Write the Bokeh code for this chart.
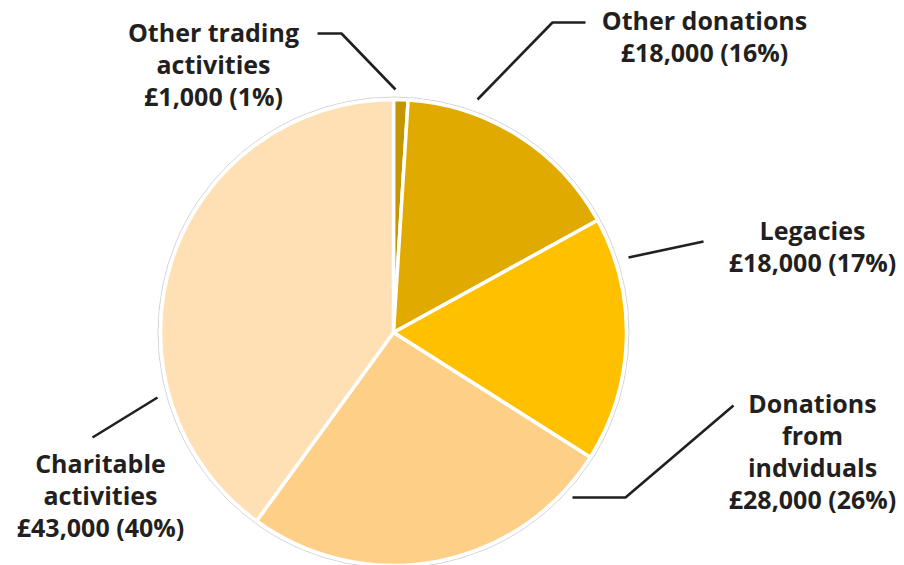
import math
from bokeh.plotting import figure
from bokeh.models import Range1d, ColumnDataSource
from bokeh.core.properties import value
from bokeh.embed import file_html
from bokeh.resources import INLINE

# ---- data ----
categories = ["Other trading activities", "Other donations", "Legacies",
              "Donations from indviduals", "Charitable activities"]
label_lines = [["Other trading", "activities"], ["Other donations"], ["Legacies"],
               ["Donations", "from", "indviduals"], ["Charitable", "activities"]]
amounts = [1000, 18000, 18000, 28000, 43000]
percents = [1, 16, 17, 26, 40]
colors = ["#C49600", "#E1AA00", "#FFC000", "#FED087", "#FFE0B4"]

W, H = 904, 565
TEXT = "#231F20"

def py(yy):  # picture y -> data y
    return H - yy

def px(xx):
    return xx

p = figure(width=W, height=H, output_backend="svg", toolbar_location=None,
           x_range=Range1d(0, W), y_range=Range1d(0, H), min_border=0)
p.axis.visible = False
p.grid.visible = False
p.outline_line_color = None
p.background_fill_color = "white"

cx, cy, R = px(393), py(332), 233

total = sum(percents)
starts, ends = [], []
acc = 0.0
for v in percents:
    starts.append(math.pi / 2 - 2 * math.pi * acc / total)
    acc += v
    ends.append(math.pi / 2 - 2 * math.pi * acc / total)

# faint outer outline
p.circle(x=[cx], y=[cy], radius=R + 2.5, fill_color=None, line_color="#D4D4D4", line_width=1)

src = ColumnDataSource(dict(start=starts, end=ends, color=colors, cat=categories))
p.wedge(x=cx, y=cy, radius=R, start_angle="start", end_angle="end", direction="clock",
        fill_color="color", line_color="white", line_width=3.5, source=src)

# ---- label layout (picture coords: center x, first-line y) ----
label_pos = [(213, 31), (704, 19), (812, 229), (812, 402), (100, 462)]
line_step = 32
leaders = [
    [(317, 33), (341, 33), (395, 89)],
    [(477, 99), (552, 22), (585, 22)],
    [(628, 257), (703, 241)],
    [(572, 497), (625, 497), (733, 405)],
    [(157, 397), (92, 437)],
]

for pts in leaders:
    p.line(x=[px(a) for a, b in pts], y=[py(b) for a, b in pts], line_color=TEXT,
           line_width=2.6)

tx, ty, tt = [], [], []
for lines, amt, pct, (lx, ly) in zip(label_lines, amounts, percents, label_pos):
    all_lines = lines + ["£{:,} ({}%)".format(amt, pct)]
    for i, s in enumerate(all_lines):
        tx.append(px(lx))
        ty.append(py(ly + i * line_step))
        tt.append(s)

p.text(x=tx, y=ty, text=tt, text_align="center", text_baseline="middle",
       text_font=value("Open Sans"), text_font_style="bold", text_font_size="25px",
       text_color=TEXT)

open("out.html", "w").write(file_html(p, INLINE))
